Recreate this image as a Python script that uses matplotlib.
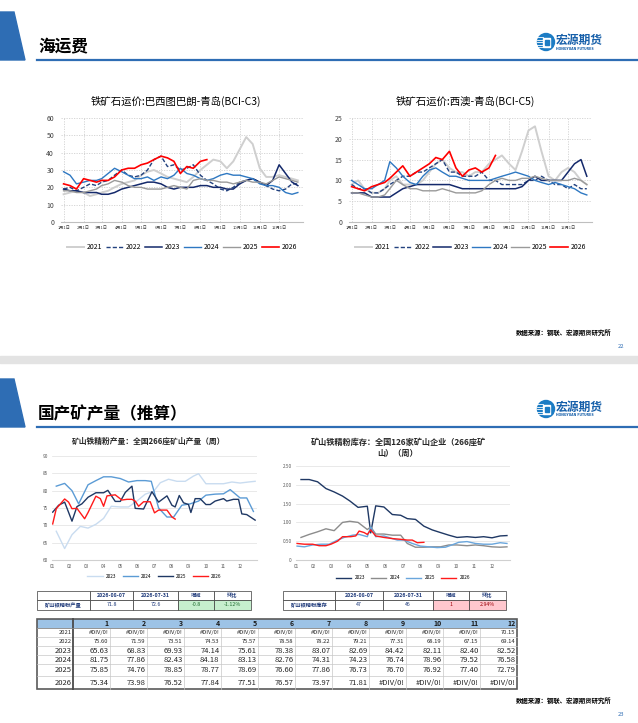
import numpy as np
import matplotlib
matplotlib.use('Agg')
import matplotlib.pyplot as plt
from matplotlib.patches import Polygon, Rectangle, Circle

plt.rcParams['font.family'] = ['Noto Sans CJK SC', 'DejaVu Sans']

W, H = 638, 723

# ---------------- data ----------------
# 运价：日期(年内天数) 大约每10天取一个点
days = [1, 11, 21, 32, 42, 52, 60, 70, 80, 91, 101, 111, 121, 131, 141, 152, 162, 172,
        182, 192, 202, 213, 223, 233, 244, 254, 264, 274, 284, 294, 305, 315, 325, 335,
        345, 355, 364]
month_start = [1, 32, 60, 91, 121, 152, 182, 213, 244, 274, 305, 335]
month_labels = [f'{m}月1日' for m in range(1, 13)]
years = ['2021', '2022', '2023', '2024', '2025', '2026']

c3_2021 = [16, 17, 18, 17, 15, 16, 17, 18, 20, 22, 23, 24, 27, 29, 30, 28, 26, 25, 24, 23,
           26, 30, 33, 36, 35, 31, 35, 42, 49, 45, 31, 26, 26, 27, 26, 25, 24]
c3_2022 = [19, 20, 18, 20, 22, 21, 23, 24, 27, 30, 27, 26, 27, 30, 36, 38, 32, 33, 30, 31,
           33, 27, 24, 22, 19, 18, 20, 23, 24, 25, 23, 21, 19, 18, 19, 22, 22]
c3_2023 = [19, 18, 18, 17, 17, 17, 16, 16, 17, 19, 20, 21, 22, 23, 23, 22, 20, 19, 20, 20,
           20, 21, 21, 20, 20, 19, 19, 22, 24, 25, 23, 21, 24, 33, 28, 23, 21]
c3_2024 = [29, 27, 22, 23, 24, 24, 25, 28, 31, 29, 27, 25, 25, 26, 24, 26, 25, 27, 31, 28,
           27, 25, 24, 25, 27, 28, 27, 27, 26, 25, 22, 21, 21, 20, 17, 16, 17]
c3_2025 = [18, 18, 17, 17, 18, 19, 21, 22, 24, 23, 21, 20, 20, 19, 19, 19, 20, 21, 20, 19,
           24, 25, 24, 24, 23, 23, 22, 23, 24, 23, 23, 22, 24, 26, 25, 24, 23]
c3_2026 = [22, 21, 19, 25, 24, 23, 24, 24, 26, 30, 31, 31, 33, 34, 36, 38, 37, 35, 28, 32,
           31, 35, 36]

c5_2021 = [9, 10, 8, 7, 7, 8, 10, 11, 9, 9, 9, 10, 12, 14, 15, 13, 12, 12, 11, 12, 12, 14,
           15, 16, 14, 12.5, 17, 22, 23, 17, 11, 10, 12, 13, 12, 10, 9]
c5_2022 = [9, 8, 8, 7, 7, 8, 9, 10, 11, 11, 12, 12, 13, 14, 15, 12, 12, 11, 11, 11, 12, 10,
           10, 9, 9, 9, 9, 10, 10, 11, 10, 9, 9, 8, 9, 8, 8]
c5_2023 = [7, 7, 7, 6, 6, 6, 6, 7, 8, 8.5, 9, 9, 9, 9, 9, 9, 8.5, 8, 8, 8, 8, 8, 8, 8, 8, 8,
           8.5, 10, 11, 10, 10, 10, 10, 12, 14, 15, 11]
c5_2024 = [10, 9, 8, 8, 9, 10, 14.5, 13, 11, 9.5, 9, 11, 12.5, 13, 12, 11, 11, 10.5, 10, 10,
           10, 10, 10.5, 11, 11.5, 12, 11.5, 11, 10, 9.5, 9, 9.5, 9, 8.5, 8, 7, 6.5]
c5_2025 = [7, 7, 6.5, 6, 6, 6.5, 8, 10, 9, 8, 8, 7.5, 7.5, 7.5, 8, 7.5, 7, 7, 7, 7, 7.5, 9,
           10, 10.5, 10, 10, 10.5, 10.5, 11, 10.5, 10, 10, 10, 10, 10.5, 10, 9]
c5_2026 = [8.5, 8, 7.5, 8.5, 9, 9.5, 10.5, 12, 13.5, 11, 12, 13, 14, 15.5, 15, 17, 13, 11,
           12.5, 13, 12, 13, 16]

# 矿山铁精粉产量（周），x 为月份位置
out_2023_x = [1.25, 1.74, 2.17, 2.66, 3.11, 3.57, 4.02, 4.47, 5.00, 5.48, 5.97, 6.46, 6.95,
              7.34, 7.82, 8.31, 8.80, 9.28, 9.58, 10.01, 10.55, 11.04, 11.53, 12.01, 12.50, 12.89]
out_2023 = [68.3, 63.3, 67.3, 69.7, 69.2, 70.3, 72.0, 75.5, 75.3, 75.3, 77.0, 79.0, 79.8,
            82.3, 83.3, 82.7, 82.7, 84.2, 84.9, 82.0, 82.0, 82.0, 82.5, 82.2, 82.5, 82.7]
out_2024_x = [1.25, 1.74, 2.17, 2.56, 3.11, 3.57, 4.02, 4.47, 5.00, 5.48, 5.97, 6.46, 6.81,
              7.24, 7.73, 8.12, 8.60, 9.09, 9.58, 10.01, 10.55, 11.04, 11.43, 12.01, 12.40, 12.79]
out_2024 = [81.3, 82.1, 80.0, 76.2, 81.7, 82.9, 84.0, 84.0, 83.5, 82.5, 82.9, 82.9, 82.7,
            75.0, 72.4, 72.4, 75.8, 76.2, 77.0, 78.7, 79.0, 79.1, 80.3, 77.9, 77.9, 74.0]
out_2025_x = [1.04, 1.39, 1.74, 2.17, 2.46, 2.75, 3.11, 3.57, 4.02, 4.27, 4.70, 5.00, 5.29,
              5.68, 5.87, 6.36, 6.85, 7.24, 7.73, 8.02, 8.21, 8.45, 8.70, 8.99, 9.13, 9.38,
              9.67, 10.01, 10.26, 10.55, 11.04, 11.23, 11.62, 11.92, 12.11, 12.40, 12.89]
out_2025 = [73.8, 75.8, 76.7, 71.2, 75.4, 76.2, 78.1, 79.4, 79.4, 80.1, 76.9, 76.9, 79.5,
            81.3, 74.9, 74.7, 79.7, 76.7, 78.5, 75.8, 75.3, 78.6, 76.5, 76.0, 73.7, 77.7,
            77.7, 76.0, 76.0, 77.0, 77.7, 77.0, 77.5, 77.5, 73.3, 73.1, 71.5]
out_2026_x = [1.04, 1.25, 1.74, 1.97, 2.17, 2.46, 2.91, 3.11, 3.57, 3.83, 4.02, 4.22, 4.70,
              5.09, 5.39, 5.68, 5.87, 6.07, 6.36, 6.75, 7.00, 7.24, 7.73, 8.02, 8.21]
out_2026 = [70.4, 74.8, 77.6, 76.7, 74.8, 74.9, 71.9, 73.7, 78.4, 77.7, 75.5, 78.5, 78.8,
            77.3, 77.5, 77.5, 77.0, 75.5, 76.8, 76.8, 73.6, 74.4, 74.4, 72.4, 71.8]

# 矿山铁精粉库存（周）
inv_x = [1.28, 1.74, 2.21, 2.68, 3.14, 3.61, 4.02, 4.48, 5.00, 5.19, 5.47, 5.93, 6.40, 6.87,
         7.24, 7.70, 8.17, 8.64, 9.10, 9.57, 10.03, 10.59, 11.06, 11.52, 11.99, 12.45, 12.83]
inv_2023 = [2.14, 2.14, 2.08, 1.90, 1.81, 1.70, 1.57, 1.40, 1.43, 0.72, 1.44, 1.41, 1.21,
            1.19, 1.10, 1.08, 0.90, 0.80, 0.73, 0.66, 0.60, 0.62, 0.60, 0.62, 0.59, 0.64, 0.65]
inv_2024 = [0.60, 0.68, 0.75, 0.83, 0.78, 1.00, 1.03, 1.00, 0.81, 0.88, 0.69, 0.69, 0.66,
            0.66, 0.44, 0.34, 0.34, 0.35, 0.35, 0.40, 0.40, 0.38, 0.40, 0.38, 0.35, 0.34, 0.35]
inv_2025_x = [1.06, 1.47, 1.93, 2.40, 2.86, 3.33, 3.70, 4.17, 4.54, 5.00, 5.19, 5.47, 5.93,
              6.40, 6.68, 7.05, 7.52, 7.98, 8.45, 8.91, 9.38, 9.85, 10.12, 10.59, 11.06,
              11.52, 11.99, 12.45, 12.83]
inv_2025 = [0.37, 0.35, 0.40, 0.42, 0.42, 0.53, 0.60, 0.66, 0.68, 0.62, 0.88, 0.62, 0.64,
            0.57, 0.53, 0.53, 0.44, 0.37, 0.35, 0.33, 0.34, 0.42, 0.47, 0.49, 0.44, 0.42,
            0.42, 0.46, 0.44]
inv_2026_x = [1.06, 1.47, 1.93, 2.30, 2.68, 2.96, 3.33, 3.61, 4.07, 4.35, 4.54, 4.82, 5.00,
              5.19, 5.47, 5.93, 6.40, 6.87, 7.24, 7.52, 7.80, 8.17]
inv_2026 = [0.44, 0.42, 0.42, 0.38, 0.38, 0.42, 0.50, 0.62, 0.62, 0.64, 0.77, 0.73, 0.68,
            0.80, 0.64, 0.60, 0.57, 0.55, 0.53, 0.53, 0.46, 0.47]

# 小表
prod_header = ['2026-08-07', '2026-07-31', '增减', '环比']
prod_row = ['矿山铁精粉产量', '71.8', '72.6', '-0.8', '-1.12%']
inv_header = ['2026-08-07', '2026-07-31', '增减', '环比']
inv_row = ['矿山铁精粉库存', '47', '46', '1', '2.94%']

# 月均产量表 (None = #DIV/0!)
tbl_years = ['2021', '2022', '2023', '2024', '2025', '2026']
tbl_2021 = [None] * 11 + [70.15]
tbl_2022 = [75.60, 71.59, 73.51, 74.53, 75.57, 78.58, 78.22, 79.21, 77.31, 68.19, 67.15, 69.14]
tbl_2023 = [65.63, 68.83, 69.93, 74.14, 75.61, 78.38, 83.07, 82.69, 84.42, 82.11, 82.40, 82.52]
tbl_2024 = [81.75, 77.86, 82.43, 84.18, 83.13, 82.76, 74.31, 74.23, 76.74, 78.96, 79.52, 76.58]
tbl_2025 = [75.85, 74.76, 78.85, 78.77, 78.69, 76.60, 77.86, 76.73, 76.70, 76.92, 77.40, 72.79]
tbl_2026 = [75.34, 73.98, 76.52, 77.84, 77.51, 76.57, 73.97, 71.81, None, None, None, None]


def box(x0, y0, x1, y1):
    return [x0 / W, 1 - y1 / H, (x1 - x0) / W, (y1 - y0) / H]


fig = plt.figure(figsize=(W / 100, H / 100), dpi=100)
bg = fig.add_axes([0, 0, 1, 1])
bg.set_xlim(0, W)
bg.set_ylim(H, 0)
bg.axis('off')

BLUE = '#2e6db4'


def logo(cx, cy):
    bg.add_patch(Circle((cx, cy), 8.5, color='#1c7cc4'))
    for dy in (-5, -2.5, 0, 2.5, 5):
        bg.plot([cx - 9, cx - 3.5], [cy + dy, cy + dy], color='white', lw=0.6)
    bg.add_patch(Rectangle((cx - 3, cy - 4.5), 7, 9, color='white'))
    bg.add_patch(Rectangle((cx - 1, cy - 2.5), 3.5, 5, color='#1c7cc4'))
    bg.text(cx + 10, cy - 2, '宏源期货', fontsize=8.5, fontweight='bold', color='#1760aa',
            va='center', ha='left')
    bg.text(cx + 10.5, cy + 6.5, 'HONGYUAN FUTURES', fontsize=2.3, fontweight='bold',
            color='#1760aa', va='center', ha='left', family='DejaVu Sans')


def slide_head(top, title):
    bg.add_patch(Polygon([(0, top), (14, top), (25, top + 48), (0, top + 48)], color=BLUE))
    bg.plot([37, W], [top + 47.5, top + 47.5], color=BLUE, lw=1.6)
    bg.text(38, top + 35, title, fontsize=12, fontweight='bold', va='center', ha='left')
    logo(546, top + 30)


def footer(y, page):
    bg.text(612, y, '数据来源：钢联、宏源期货研究所', fontsize=4.6, fontweight='bold',
            ha='right', va='center')
    bg.text(624, y + 14, page, fontsize=4.2, color=BLUE, ha='right', va='center')


slide_head(12, '海运费')
footer(333, '22')
bg.add_patch(Rectangle((0, 356), W, 7, color='#e3e3e3'))
slide_head(379, '国产矿产量（推算）')
footer(700, '23')

# ---------------- 运价图 ----------------
c3_series = [c3_2021, c3_2022, c3_2023, c3_2024, c3_2025, c3_2026]
c5_series = [c5_2021, c5_2022, c5_2023, c5_2024, c5_2025, c5_2026]
styles = [('#cfcfcf', '-', 1.4), ('#23427f', (0, (3, 1.5)), 1.0), ('#14296b', '-', 1.1),
          ('#2e78c2', '-', 1.0), ('#9a9a9a', '-', 1.0), ('#ff0000', '-', 1.2)]


def freight_chart(rect, title, title_x, series, ymax, ystep):
    ax = fig.add_axes(box(*rect))
    ax.set_facecolor('none')
    for yr, vals, (c, ls, lw) in zip(years, series, styles):
        ax.plot(days[:len(vals)], vals, color=c, ls=ls, lw=lw, label=yr)
    ax.set_xlim(-3, 372)
    ax.set_ylim(0, ymax)
    ax.set_yticks(np.arange(0, ymax + 0.1, ystep))
    ax.set_xticks(month_start)
    ax.set_xticklabels(month_labels)
    ax.tick_params(axis='y', labelsize=5, length=0, pad=5, colors='#404040')
    ax.tick_params(axis='x', labelsize=3, length=0, pad=2.5, colors='#404040')
    ax.grid(True, ls=(0, (1.5, 1.5)), color='#d0d0d0', lw=0.6)
    for s in ['top', 'right', 'left']:
        ax.spines[s].set_visible(False)
    ax.spines['bottom'].set_color('#bfbfbf')
    ax.legend(loc='center', bbox_to_anchor=(0.5, -0.24), ncol=6, frameon=False,
              fontsize=5, handlelength=2.5, columnspacing=0.5, handletextpad=0.4)
    bg.text(title_x, 101, title, fontsize=7.5, ha='center', va='center')


freight_chart((61, 118, 303, 222), '铁矿石运价:巴西图巴朗-青岛(BCI-C3)', 176, c3_series, 60, 10)
freight_chart((349, 118, 592, 222), '铁矿石运价:西澳-青岛(BCI-C5)', 465, c5_series, 25, 5)

# ---------------- 产量 / 库存 ----------------
mon_ticks = list(range(1, 13))
mon_labels = [f'{m:02d}' for m in mon_ticks]


def weekly_chart(rect, lines, ylim, yticks, ylabels, leg_y):
    ax = fig.add_axes(box(*rect))
    ax.set_facecolor('none')
    for x, y, c, yr in lines:
        ax.plot(x, y, color=c, lw=1.0, label=yr)
    ax.set_xlim(1, 13)
    ax.set_ylim(*ylim)
    ax.set_yticks(yticks)
    ax.set_yticklabels(ylabels)
    ax.set_xticks(mon_ticks)
    ax.set_xticklabels(mon_labels)
    ax.tick_params(axis='both', labelsize=3.4, length=0, pad=3, colors='#595959')
    ax.grid(True, axis='y', color='#e0e0e0', lw=0.5)
    for s in ['top', 'right', 'left']:
        ax.spines[s].set_visible(False)
    ax.spines['bottom'].set_color('#d0d0d0')
    ax.legend(loc='center', bbox_to_anchor=(0.5, leg_y), ncol=4, frameon=False,
              fontsize=3.4, handlelength=3.2, columnspacing=1.3, handletextpad=0.7)
    return ax


weekly_chart((52, 456, 257, 560),
             [(out_2023_x, out_2023, '#c9dcf0', '2023'),
              (out_2024_x, out_2024, '#5b9bd5', '2024'),
              (out_2025_x, out_2025, '#1f3864', '2025'),
              (out_2026_x, out_2026, '#ff1a1a', '2026')],
             (60, 90), np.arange(60, 91, 5), [str(v) for v in range(60, 91, 5)], -0.16)
bg.text(149, 441, '矿山铁精粉产量：全国266座矿山产量（周）', fontsize=5.6,
        fontweight='bold', ha='center', va='center', color='#262626')

weekly_chart((296, 466, 510, 560),
             [(inv_x, inv_2023, '#1f3864', '2023'),
              (inv_x, inv_2024, '#8c8c8c', '2024'),
              (inv_2025_x, inv_2025, '#6aa6dc', '2025'),
              (inv_2026_x, inv_2026, '#ff1a1a', '2026')],
             (0, 2.5), [0, 0.5, 1.0, 1.5, 2.0, 2.5],
             ['0', '0.50', '1.00', '1.50', '2.00', '2.50'], -0.19)
bg.text(398, 442, '矿山铁精粉库存：全国126家矿山企业（266座矿', fontsize=5.9,
        fontweight='bold', ha='center', va='center', color='#262626')
bg.text(398, 453, '山）（周）', fontsize=5.9, fontweight='bold', ha='center', va='center',
        color='#262626')

# ---------------- 小表 ----------------
TXT = '#1f3a7a'


def small_table(xe, header, row, fill, fcolor):
    ye = [591, 600, 610]
    for i in range(5):
        for r in range(2):
            fc = 'white'
            if r == 1 and i >= 3:
                fc = fill
            bg.add_patch(Rectangle((xe[i], ye[r]), xe[i + 1] - xe[i], ye[r + 1] - ye[r],
                                   facecolor=fc, edgecolor='#3a3a3a', lw=0.5))
    for i, h in enumerate(header):
        bg.text((xe[i + 1] + xe[i + 2]) / 2, (ye[0] + ye[1]) / 2, h, fontsize=3.8,
                ha='center', va='center', color=TXT, fontweight='bold')
    bg.text((xe[0] + xe[1]) / 2, (ye[1] + ye[2]) / 2, row[0], fontsize=3.8, ha='center',
            va='center', color=TXT, fontweight='bold')
    for i, v in enumerate(row[1:]):
        c = fcolor if i >= 2 else TXT
        bg.text((xe[i + 1] + xe[i + 2]) / 2, (ye[1] + ye[2]) / 2, v, fontsize=3.8,
                ha='center', va='center', color=c)


small_table([37, 90, 133, 178, 214, 251], prod_header, prod_row, '#c6efce', '#1e6b2e')
small_table([283, 335, 383, 433, 469, 506], inv_header, inv_row, '#ffc7ce', '#9c0006')

# ---------------- 月均产量表 ----------------
col_e = [37] + [73 + 37 * i for i in range(13)]
row_e = [619, 628, 637, 646, 655, 664, 676, 689]
rows = [tbl_2021, tbl_2022, tbl_2023, tbl_2024, tbl_2025, tbl_2026]

bg.add_patch(Rectangle((col_e[0], row_e[0]), col_e[-1] - col_e[0], row_e[1] - row_e[0],
                       facecolor='#9dc3e6', edgecolor='none'))
for i in range(1, 13):
    bg.text(col_e[i + 1] - 1.5, (row_e[0] + row_e[1]) / 2 + 0.3, str(i), fontsize=5,
            ha='right', va='center', fontweight='bold', color='#1a1a1a')
for y in row_e[1:-1]:
    bg.plot([col_e[0], col_e[-1]], [y, y], color='#c8c8c8', lw=0.5)
for x in col_e[2:-1]:
    bg.plot([x, x], [row_e[1], row_e[-1]], color='#c8c8c8', lw=0.5)
for r, (yr, vals) in enumerate(zip(tbl_years, rows)):
    yc = (row_e[r + 1] + row_e[r + 2]) / 2 + 0.3
    fs = 4.2 if r < 2 else 5.5
    bg.text(col_e[1] - 1.5, yc, yr, fontsize=fs, ha='right', va='center', color='#262626')
    for i, v in enumerate(vals):
        s = '#DIV/0!' if v is None else f'{v:.2f}'
        bg.text(col_e[i + 2] - 1.5, yc, s, fontsize=fs, ha='right', va='center',
                color='#262626')
bg.add_patch(Rectangle((col_e[0], row_e[0]), col_e[-1] - col_e[0], row_e[-1] - row_e[0],
                       facecolor='none', edgecolor='#5a5a5a', lw=1.2))
bg.plot([col_e[1], col_e[1]], [row_e[0], row_e[-1]], color='#4a4a4a', lw=1.3)
bg.plot([col_e[0], col_e[-1]], [row_e[1], row_e[1]], color='#8a8a8a', lw=0.6)

fig.savefig('out.png', dpi=100)
